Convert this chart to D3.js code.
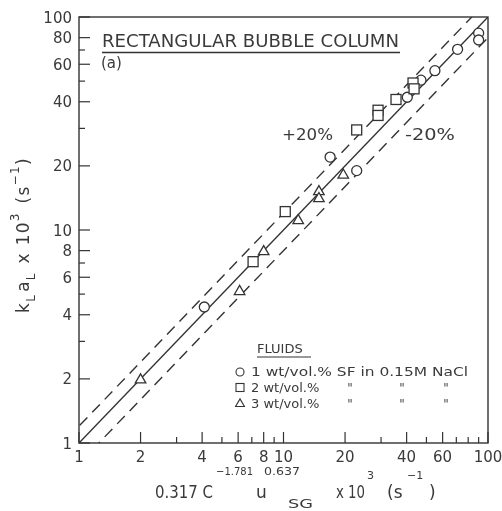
<!DOCTYPE html>
<html><head><meta charset="utf-8">
<script src="https://cdn.jsdelivr.net/npm/d3@7"></script>
<style>
body{margin:0;background:#fff;}
#c{will-change:transform;}
svg text{font-family:"DejaVu Sans",sans-serif;fill:#3a3a3a;font-weight:normal;}
</style></head>
<body><svg id="c" width="502" height="511"></svg>
<script>
// data
const circleX = [4.1, 16.9, 22.8, 40.3, 47, 55, 71, 90, 90];
const circleY = [4.35, 22, 19, 42, 50.5, 56, 70.5, 84, 78];
const squareX = [7.1, 10.2, 22.8, 29, 29, 35.5, 43, 43.5];
const squareY = [7.1, 12.2, 29.5, 36.5, 34.5, 41, 49, 46];
const triX = [2, 6.1, 8, 11.8, 14.9, 14.9, 19.6];
const triY = [2, 5.2, 8, 11.2, 15.3, 14.2, 18.3];
const xTickLabels = [1, 2, 4, 6, 8, 10, 20, 40, 60, 100];
const xMinorTicks = [3, 5, 7, 9, 30, 50, 70, 80, 90];
const yTickLabels = [1, 2, 4, 6, 8, 10, 20, 40, 60, 80, 100];
const yMinorTicks = [3, 5, 7, 30, 50, 70];
const bandFactors = [1.2, 0.8];
const legendLabels = ["1 wt/vol.% SF in 0.15M NaCl", "2 wt/vol.%", "3 wt/vol.%"];

const svg = d3.select("#c");
const ink = "#333";
const x = d3.scaleLog().domain([1, 100]).range([79, 488]);
const y = d3.scaleLog().domain([1, 100]).range([443, 17]);

// frame
svg.append("rect").attr("x", 79).attr("y", 17).attr("width", 409).attr("height", 426)
  .attr("fill", "none").attr("stroke", ink).attr("stroke-width", 1.4);

// x ticks (inward)
const xa = svg.append("g").attr("transform", "translate(0,443)");
xa.selectAll(".maj").data(xTickLabels).join("line")
  .attr("x1", d => x(d)).attr("x2", d => x(d)).attr("y1", 0).attr("y2", -11)
  .attr("stroke", ink).attr("stroke-width", 1.2);
xa.selectAll(".min").data(xMinorTicks).join("line").attr("class","min")
  .attr("x1", d => x(d)).attr("x2", d => x(d)).attr("y1", 0).attr("y2", -6)
  .attr("stroke", ink).attr("stroke-width", 1.2);
xa.selectAll("text").data(xTickLabels).join("text")
  .attr("x", d => x(d)).attr("y", 18.5).attr("text-anchor", "middle")
  .attr("font-size", 15).text(d => d);

// y ticks (inward)
const ya = svg.append("g").attr("transform", "translate(79,0)");
ya.selectAll(".maj").data(yTickLabels).join("line")
  .attr("y1", d => y(d)).attr("y2", d => y(d)).attr("x1", 0).attr("x2", 11)
  .attr("stroke", ink).attr("stroke-width", 1.2);
ya.selectAll(".min").data(yMinorTicks).join("line").attr("class","min")
  .attr("y1", d => y(d)).attr("y2", d => y(d)).attr("x1", 0).attr("x2", 6)
  .attr("stroke", ink).attr("stroke-width", 1.2);
ya.selectAll("text").data(yTickLabels).join("text")
  .attr("x", -7).attr("y", d => y(d) + 5.5).attr("text-anchor", "end")
  .attr("font-size", 15).text(d => d);

// parity line & bands
svg.append("clipPath").attr("id", "pc").append("rect")
  .attr("x", 79).attr("y", 17).attr("width", 409).attr("height", 426);
const lg = svg.append("g").attr("clip-path", "url(#pc)");
lg.append("line").attr("x1", x(1)).attr("y1", y(1)).attr("x2", x(100)).attr("y2", y(100))
  .attr("stroke", ink).attr("stroke-width", 1.4);
bandFactors.forEach(f => {
  lg.append("line").attr("x1", x(0.5)).attr("y1", y(0.5 * f)).attr("x2", x(200)).attr("y2", y(200 * f))
    .attr("stroke", ink).attr("stroke-width", 1.4).attr("stroke-dasharray", "11,7");
});

// markers
const pts = svg.append("g").attr("fill", "#fff").attr("stroke", ink).attr("stroke-width", 1.3);
pts.selectAll(".c").data(d3.zip(circleX, circleY)).join("circle")
  .attr("cx", d => x(d[0])).attr("cy", d => y(d[1])).attr("r", 5);
pts.selectAll(".s").data(d3.zip(squareX, squareY)).join("rect").attr("class","s")
  .attr("x", d => x(d[0]) - 5).attr("y", d => y(d[1]) - 5).attr("width", 10).attr("height", 10);
const triPath = d3.symbol().type(d3.symbolTriangle).size(48);
pts.selectAll(".t").data(d3.zip(triX, triY)).join("path").attr("class","t")
  .attr("d", triPath).attr("transform", d => `translate(${x(d[0])},${y(d[1]) + 1})`);

// title
svg.append("text").attr("x", 102).attr("y", 47).attr("font-size", 17)
  .attr("textLength", 297).attr("lengthAdjust", "spacingAndGlyphs").text("RECTANGULAR  BUBBLE  COLUMN");
svg.append("line").attr("x1", 102).attr("x2", 400).attr("y1", 52.5).attr("y2", 52.5)
  .attr("stroke", ink).attr("stroke-width", 1.3);
svg.append("text").attr("x", 101).attr("y", 68).attr("font-size", 15).text("(a)");

svg.append("text").attr("x", 282).attr("y", 140).attr("font-size", 15).attr("textLength", 51).attr("lengthAdjust", "spacingAndGlyphs").text("+20%");
svg.append("text").attr("x", 405).attr("y", 140).attr("font-size", 15).attr("textLength", 50).attr("lengthAdjust", "spacingAndGlyphs").text("-20%");

// legend
svg.append("text").attr("x", 257).attr("y", 353).attr("font-size", 13).text("FLUIDS");
svg.append("line").attr("x1", 257).attr("x2", 311).attr("y1", 357).attr("y2", 357).attr("stroke", ink).attr("stroke-width", 1.1);
const legY = [376, 392, 408];
const lgd = svg.append("g");
lgd.append("circle").attr("cx", 240).attr("cy", legY[0] - 4).attr("r", 4).attr("fill", "#fff").attr("stroke", ink).attr("stroke-width", 1.1);
lgd.append("rect").attr("x", 236).attr("y", legY[1] - 8.5).attr("width", 8).attr("height", 8).attr("fill", "#fff").attr("stroke", ink).attr("stroke-width", 1.1);
lgd.append("path").attr("d", d3.symbol().type(d3.symbolTriangle).size(34)).attr("transform", `translate(240,${legY[2] - 4})`)
  .attr("fill", "#fff").attr("stroke", ink).attr("stroke-width", 1.1);
legendLabels.forEach((t, i) => {
  const tx = lgd.append("text").attr("x", 251).attr("y", legY[i]).attr("font-size", 13).text(t);
  if (i === 0) tx.attr("textLength", 217).attr("lengthAdjust", "spacingAndGlyphs");
  else {
    [350, 402, 446].forEach(dx => lgd.append("text").attr("x", dx).attr("y", legY[i]).attr("font-size", 12).attr("text-anchor", "middle").style("fill", "#444").text("\u0022"));
  }
});

// x axis title (pieces placed to match the lettering)
const xTitle = [
  {t: "0.317 C", x: 155, y: 498, fs: 17, w: 58},
  {t: "−1.781", x: 216, y: 475, fs: 11, w: 37},
  {t: "u", x: 256, y: 498, fs: 17},
  {t: "0.637", x: 264, y: 475, fs: 11, w: 36},
  {t: "SG", x: 288, y: 508, fs: 13, w: 25},
  {t: "x 10", x: 336, y: 498, fs: 17, w: 29},
  {t: "3", x: 367, y: 479, fs: 11},
  {t: "(s", x: 387, y: 498, fs: 17},
  {t: "−1", x: 407, y: 479, fs: 11},
  {t: ")", x: 429, y: 498, fs: 17}
];
xTitle.forEach(p => {
  const e = svg.append("text").attr("x", p.x).attr("y", p.y).attr("font-size", p.fs).text(p.t);
  if (p.w) e.attr("textLength", p.w).attr("lengthAdjust", "spacingAndGlyphs");
});

// y axis title
const yt = svg.append("text").attr("transform", "translate(29,313) rotate(-90)").attr("font-size", 17)
  .attr("letter-spacing", 1.3);
yt.append("tspan").text("k");
yt.append("tspan").attr("dy", 6).attr("font-size", 12).text("L");
yt.append("tspan").attr("dy", -6).attr("dx", 2).text("a");
yt.append("tspan").attr("dy", 6).attr("font-size", 12).text("L");
yt.append("tspan").attr("dy", -6).attr("dx", 2).text(" x 10");
yt.append("tspan").attr("dy", -10).attr("font-size", 12).text("3");
yt.append("tspan").attr("dy", 10).attr("dx", 2).text(" (s");
yt.append("tspan").attr("dy", -10).attr("font-size", 12).text("−1");
yt.append("tspan").attr("dy", 10).text(")");
</script></body></html>
